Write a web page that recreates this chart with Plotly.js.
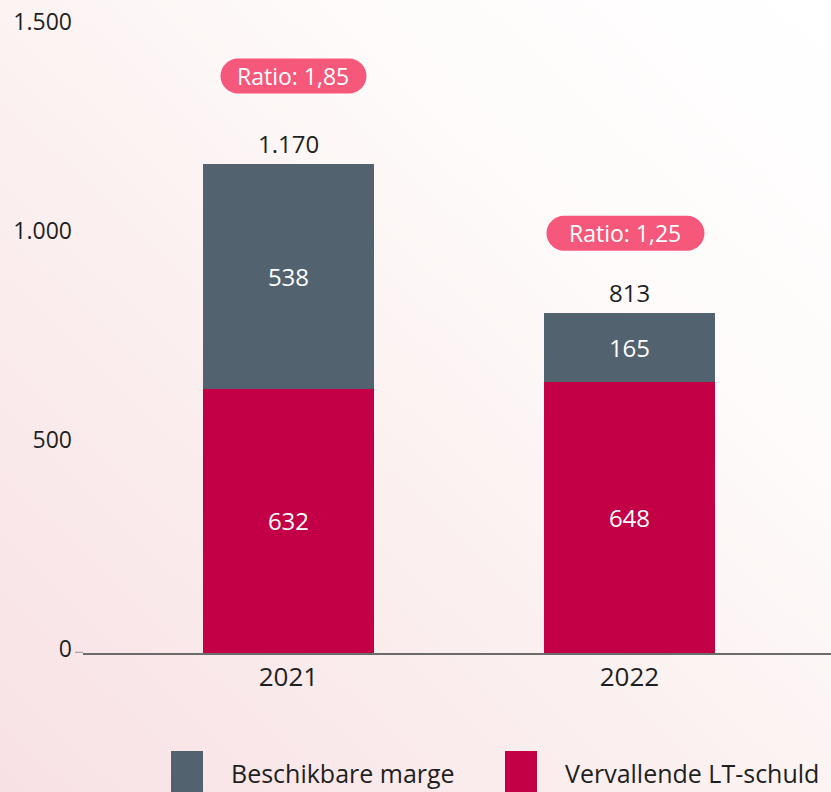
<!DOCTYPE html>
<html>
<head>
<meta charset="utf-8">
<script src="https://cdn.plot.ly/plotly-3.0.1.min.js"></script>
<style>
  html, body { margin:0; padding:0; width:831px; height:792px; overflow:hidden; }
  body { background: linear-gradient(to top right, #f8e1e4 0%, #fbefef 40%, #fefbfa 70%, #ffffff 100%); }
  #chart { width:831px; height:792px; }
</style>
</head>
<body>
<div id="chart"></div>
<script>
const years = ['2021', '2022'];
const vervallend = [632, 648];
const beschikbaar = [538, 165];
const totals = [1170, 813];
const totalLabels = ['1.170', '813'];
const ratioLabels = ['Ratio: 1,85', 'Ratio: 1,25'];
const yTickVals = [0, 500, 1000, 1500];
const yTickText = ['0', '500', '1.000', '1.500'];
const legendNames = ['Beschikbare marge', 'Vervallende LT-schuld'];

const C_GREY = '#52626f';
const C_RED = '#c30045';
const C_BADGE = '#f5587b';
const FONT = 'Open Sans, sans-serif';
const TXT = '#1f1f1f';

// badge geometry (pixels): lift above bar top, horizontal nudge, width
const badgeLift = [88, 80];
const badgeNudge = [5, -4];
const badgeWidth = [146, 158];

const traces = [
  { type:'bar', name: legendNames[1], x: years, y: vervallend, marker:{color:C_RED},
    text: vervallend.map(String), textposition:'inside', insidetextanchor:'middle',
    textfont:{color:'#ffffff', size:24, family:FONT}, width:0.5, hoverinfo:'skip' },
  { type:'bar', name: legendNames[0], x: years, y: beschikbaar, marker:{color:C_GREY},
    text: beschikbaar.map(String), textposition:'inside', insidetextanchor:'middle',
    textfont:{color:'#ffffff', size:24, family:FONT}, width:0.5, hoverinfo:'skip' }
];

function pill(w, h, dx, dy) {
  const r = h / 2, k = 0.5523 * r;
  const x0 = dx - w/2, x1 = dx + w/2, y0 = dy - h/2, y1 = dy + h/2;
  return `M ${x0+r},${y0} L ${x1-r},${y0} ` +
    `C ${x1-r+k},${y0} ${x1},${y0+r-k} ${x1},${y0+r} ` +
    `C ${x1},${y0+r+k} ${x1-r+k},${y1} ${x1-r},${y1} ` +
    `L ${x0+r},${y1} ` +
    `C ${x0+r-k},${y1} ${x0},${y1-r+k} ${x0},${y1-r} ` +
    `C ${x0},${y1-r-k} ${x0+r-k},${y0} ${x0+r},${y0} Z`;
}

const shapes = [];
const annotations = [];
years.forEach((yr, i) => {
  shapes.push({ type:'path', xref:'x', yref:'y', xsizemode:'pixel', ysizemode:'pixel',
    xanchor: i, yanchor: totals[i], path: pill(badgeWidth[i], 35, badgeNudge[i], badgeLift[i]),
    fillcolor: C_BADGE, line:{width:0}, layer:'below' });
  annotations.push({ x: i, y: totals[i], xref:'x', yref:'y', text: ratioLabels[i],
    showarrow:false, yshift: badgeLift[i], xshift: badgeNudge[i],
    font:{color:'#ffffff', size:23, family:FONT} });
  annotations.push({ x: i, y: totals[i], xref:'x', yref:'y', text: totalLabels[i],
    showarrow:false, yanchor:'bottom', yshift: 2, font:{color:TXT, size:24, family:FONT} });
});

shapes.push({ type:'line', xref:'paper', yref:'y', x0:-8/748, x1:0, y0:0, y1:0,
  line:{color:'#a8a8a8', width:2.5} });

const legendColors = [C_GREY, C_RED];
const legendX = [171, 505];
legendNames.forEach((nm, i) => {
  const px = legendX[i];
  shapes.push({ type:'rect', xref:'paper', yref:'paper',
    x0:(px-83)/748, x1:(px+32-83)/748, y0:(653-800)/627, y1:(653-751)/627,
    fillcolor: legendColors[i], line:{width:0} });
  annotations.push({ xref:'paper', yref:'paper', x:(px+58-83)/748, y:(653-773)/627,
    xanchor:'left', yanchor:'middle', text: nm, showarrow:false,
    font:{color:TXT, size:25, family:FONT} });
});

const layout = {
  width:831, height:792,
  margin:{l:83, r:0, t:26, b:139, pad:0},
  paper_bgcolor:'rgba(0,0,0,0)', plot_bgcolor:'rgba(0,0,0,0)',
  barmode:'stack', showlegend:false,
  font:{family:FONT, color:TXT},
  xaxis:{ type:'category', range:[-0.6026, 1.591], showline:true, linecolor:'#6b6b6b', linewidth:1.5,
    showgrid:false, zeroline:false, ticks:'', tickfont:{size:26, color:TXT, family:FONT},
    ticklabelstandoff: 0, fixedrange:true },
  yaxis:{ range:[0,1500], tickvals:yTickVals, ticktext:yTickText, showgrid:false, zeroline:false,
    showline:false, ticks:'', tickfont:{size:23, color:TXT, family:FONT},
    ticklabelstandoff: 10, ticklabelshift: -4, fixedrange:true },
  shapes, annotations
};

Plotly.newPlot('chart', traces, layout, {displayModeBar:false, staticPlot:true});
</script>
</body>
</html>
